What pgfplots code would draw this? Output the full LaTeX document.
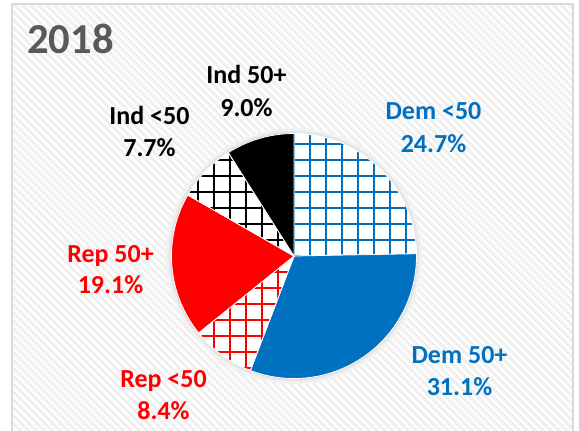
\documentclass[border=0pt]{standalone}
\usepackage{pgfplots}
\pgfplotsset{compat=1.18}
\usetikzlibrary{patterns.meta}
\usepackage{fontspec}
\setmainfont{Carlito}
\definecolor{demblue}{RGB}{0,112,192}
\definecolor{repred}{RGB}{255,0,0}
\definecolor{titlegray}{RGB}{89,89,89}
\definecolor{bggray}{RGB}{240,240,240}
\definecolor{framegray}{RGB}{217,217,217}
\begin{document}
\begin{tikzpicture}
\begin{scope}[x=0.75pt,y=-0.75pt]
\useasboundingbox (0,0) rectangle (579,430);
\fill[white] (0,0) rectangle (579,430);
\begin{scope}
\clip (0,0) rectangle (579,430);
\fill[bggray] (12,4) rectangle (573,440);
\fill[pattern={Lines[angle=-45,distance=4.2pt,line width=1.6pt]},pattern color=white] (12,4) rectangle (573,440);
\draw[framegray,line width=1.2pt] (12,4) rectangle (573,440);
\end{scope}
% soft shadow around the pie
\fill[black!5] (294,256) circle (128);
\fill[black!9] (294,256) circle (125.5);
\fill[black!15] (294,256) circle (123.5);
\coordinate (pc) at (294,256);
\end{scope}
\begin{axis}[
  at={(pc)}, anchor=center,
  scale only axis, width=183.75pt, height=183.75pt,
  xmin=-1, xmax=1, ymin=-1, ymax=1,
  hide axis, clip=false,
]
% shares (%): Dem<50 24.7, Dem 50+ 31.1, Rep<50 8.4, Rep 50+ 19.1, Ind<50 7.7, Ind 50+ 9.0
% slices clockwise from 12 o'clock; angle = 90 - 3.6*cumulative share
\pgfplotsset{gridfill/.style={draw=white, line width=0.6pt, preaction={fill=white},
  pattern={Hatch[angle=0,distance=12pt,line width=2.1pt,xshift=4.5pt,yshift=10.5pt]}, pattern color=#1}}
\addplot[gridfill=demblue, domain=1.08:90, samples=80, variable=\t]
  ({cos(\t)},{sin(\t)}) -- (axis cs:0,0) -- cycle;
\addplot[draw=white, line width=0.6pt, fill=demblue,
  domain=-110.88:1.08, samples=80, variable=\t]
  ({cos(\t)},{sin(\t)}) -- (axis cs:0,0) -- cycle;
\addplot[gridfill=repred, domain=-141.12:-110.88, samples=40, variable=\t]
  ({cos(\t)},{sin(\t)}) -- (axis cs:0,0) -- cycle;
\addplot[draw=white, line width=0.6pt, fill=repred,
  domain=-209.88:-141.12, samples=60, variable=\t]
  ({cos(\t)},{sin(\t)}) -- (axis cs:0,0) -- cycle;
\addplot[gridfill=black, domain=-237.6:-209.88, samples=40, variable=\t]
  ({cos(\t)},{sin(\t)}) -- (axis cs:0,0) -- cycle;
\addplot[draw=white, line width=0.6pt, fill=black,
  domain=-270:-237.6, samples=40, variable=\t]
  ({cos(\t)},{sin(\t)}) -- (axis cs:0,0) -- cycle;
\end{axis}
\begin{scope}[x=0.75pt,y=-0.75pt]
\node[anchor=base west, inner sep=0pt, font=\fontsize{32}{36}\selectfont\bfseries, text=titlegray] at (27,53) {2018};
\tikzset{lab/.style={anchor=base, inner sep=0pt, font=\fontsize{19.5}{24}\selectfont\bfseries}}
\node[lab, text=black] at (246.5,83) {Ind 50+};
\node[lab, text=black] at (246.5,116) {9.0\%};
\node[lab, text=black] at (149.5,124) {Ind <50};
\node[lab, text=black] at (149.5,156) {7.7\%};
\node[lab, text=demblue] at (433.5,119) {Dem <50};
\node[lab, text=demblue] at (433.5,152) {24.7\%};
\node[lab, text=repred] at (110.5,262) {Rep 50+};
\node[lab, text=repred] at (110.5,293) {19.1\%};
\node[lab, text=repred] at (163.5,387) {Rep <50};
\node[lab, text=repred] at (163.5,419) {8.4\%};
\node[lab, text=demblue] at (459.5,363) {Dem 50+};
\node[lab, text=demblue] at (459.5,395) {31.1\%};
\end{scope}
\end{tikzpicture}
\end{document}
